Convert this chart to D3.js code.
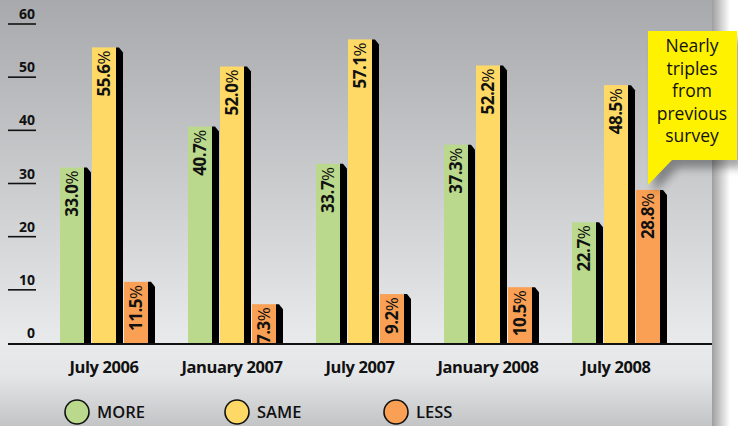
<!DOCTYPE html>
<html><head><meta charset="utf-8">
<script src="https://cdn.jsdelivr.net/npm/d3@7"></script>
<style>html,body{margin:0;padding:0;background:#fff;}svg{display:block;font-family:"Open Sans",sans-serif;}</style>
</head><body>
<script>
const categories = ["July 2006","January 2007","July 2007","January 2008","July 2008"];
const series = ["MORE","SAME","LESS"];
const moreValues = [33.0, 40.7, 33.7, 37.3, 22.7];
const sameValues = [55.6, 52.0, 57.1, 52.2, 48.5];
const lessValues = [11.5, 7.3, 9.2, 10.5, 28.8];
const yTicks = [0,10,20,30,40,50,60];
const colors = ["#bad98c","#fed966","#f9a055"];
const calloutLines = ["Nearly","triples","from","previous","survey"];

const W = 738, H = 426, panelW = 712;
const svg = d3.select("body").append("svg").attr("width", W).attr("height", H);
const defs = svg.append("defs");

const g1 = defs.append("linearGradient").attr("id","bgTop").attr("x1",0).attr("y1",0).attr("x2",0).attr("y2",1);
g1.append("stop").attr("offset",0).attr("stop-color","#a7a9ac");
g1.append("stop").attr("offset",1).attr("stop-color","#e9eaeb");
const g2 = defs.append("linearGradient").attr("id","bgBot").attr("x1",0).attr("y1",0).attr("x2",0).attr("y2",1);
g2.append("stop").attr("offset",0).attr("stop-color","#e9eaec");
g2.append("stop").attr("offset",0.4).attr("stop-color","#e4e5e7");
g2.append("stop").attr("offset",1).attr("stop-color","#c3c4c6");
const g3 = defs.append("linearGradient").attr("id","edge").attr("x1",0).attr("y1",0).attr("x2",1).attr("y2",0);
g3.append("stop").attr("offset",0).attr("stop-color","#000").attr("stop-opacity",0.38);
g3.append("stop").attr("offset",1).attr("stop-color","#000").attr("stop-opacity",0);
const f = defs.append("filter").attr("id","blur").attr("x","-30%").attr("y","-30%").attr("width","160%").attr("height","160%");
f.append("feGaussianBlur").attr("stdDeviation",4);

const y = d3.scaleLinear().domain([0,60]).range([343,24]);
const x0 = d3.scaleBand().domain(categories).range([40,680]).paddingInner(0.3125).paddingOuter(0.15625);
const x1 = d3.scaleBand().domain(series).range([0, x0.bandwidth()]).paddingInner(0.25).paddingOuter(0);
const color = d3.scaleOrdinal().domain(series).range(colors);

// background
svg.append("rect").attr("x",0).attr("y",0).attr("width",panelW).attr("height",y(0)).attr("fill","url(#bgTop)");
svg.append("rect").attr("x",0).attr("y",y(0)).attr("width",panelW).attr("height",H-y(0)).attr("fill","url(#bgBot)");
svg.append("rect").attr("x",panelW).attr("y",0).attr("width",18).attr("height",H).attr("fill","url(#edge)");

// y axis ticks
const yAxis = svg.append("g");
yTicks.forEach(t => {
  if (t !== 0) yAxis.append("line").attr("x1",8).attr("x2",36).attr("y1",y(t)).attr("y2",y(t)).attr("stroke","#111").attr("stroke-width",1.6);
  yAxis.append("text").attr("x",35).attr("y",y(t)-5).attr("text-anchor","end")
    .attr("font-size",14).attr("font-weight",700).attr("fill","#111").text(t);
});

// bars
const data = categories.map((c,i) => ({cat:c, vals:[
  {s:"MORE", v:moreValues[i]}, {s:"SAME", v:sameValues[i]}, {s:"LESS", v:lessValues[i]}]}));
const groups = svg.selectAll("g.grp").data(data).join("g").attr("class","grp")
  .attr("transform", d => `translate(${x0(d.cat)},0)`);
const bars = groups.selectAll("g.bar").data(d => d.vals).join("g").attr("class","bar");
bars.append("path").attr("fill","#000").attr("d", d => {
  const r = x1(d.s) + x1.bandwidth(), t = y(d.v), b = y(0);
  return `M${r},${t} L${r+3},${t} L${r+7},${t+5} L${r+7},${b} L${r},${b} Z`;
});
bars.append("rect").attr("x", d => x1(d.s)).attr("y", d => y(d.v))
  .attr("width", x1.bandwidth()).attr("height", d => y(0) - y(d.v)).attr("fill", d => color(d.s));
const lbl = bars.append("text")
  .attr("transform", d => `translate(${x1(d.s)+x1.bandwidth()/2},${y(d.v)+3}) rotate(-90)`)
  .attr("text-anchor","end").attr("dy","0.36em").attr("font-size",17).attr("fill","#111");
lbl.append("tspan").attr("font-weight",700).attr("letter-spacing","-0.5").text(d => d.v.toFixed(1));
lbl.append("tspan").attr("font-weight",400).text("%");

// baseline
svg.append("line").attr("x1",8).attr("x2",panelW).attr("y1",y(0)+1).attr("y2",y(0)+1).attr("stroke","#111").attr("stroke-width",2.2);

// category labels
svg.append("g").selectAll("text").data(categories).join("text")
  .attr("x", d => x0(d) + x0.bandwidth()/2).attr("y", 373).attr("text-anchor","middle")
  .attr("font-size",16.5).attr("font-weight",700).attr("fill","#111").attr("letter-spacing","-0.4").text(d => d);

// legend
const legX = [77, 237, 396];
const leg = svg.append("g").selectAll("g").data(series).join("g")
  .attr("transform", (d,i) => `translate(${legX[i]},412)`);
leg.append("circle").attr("r",12).attr("fill", d => color(d)).attr("stroke","#111").attr("stroke-width",1.6);
leg.append("text").attr("x",20).attr("dy","0.36em").attr("font-size",16.5).attr("font-weight",600).attr("fill","#111").text(d => d);

// callout
const cx0 = 648, cy0 = 31, cx1 = 737, cy1 = 160;
const calloutPath = `M${cx0},${cy0} L${cx1},${cy0} L${cx1},${cy1} L${cx0+24},${cy1} L${cx0},${cy1+25} Z`;
svg.append("path").attr("d", calloutPath).attr("transform","translate(6,8)").attr("fill","#000").attr("opacity",0.35).attr("filter","url(#blur)");
svg.append("path").attr("d", calloutPath).attr("fill","#fff200");
svg.append("g").selectAll("text").data(calloutLines).join("text")
  .attr("x", 692).attr("y", (d,i) => 52 + i*22.5).attr("text-anchor","middle")
  .attr("font-size",17.5).attr("fill","#111").text(d => d);
</script>
</body></html>
